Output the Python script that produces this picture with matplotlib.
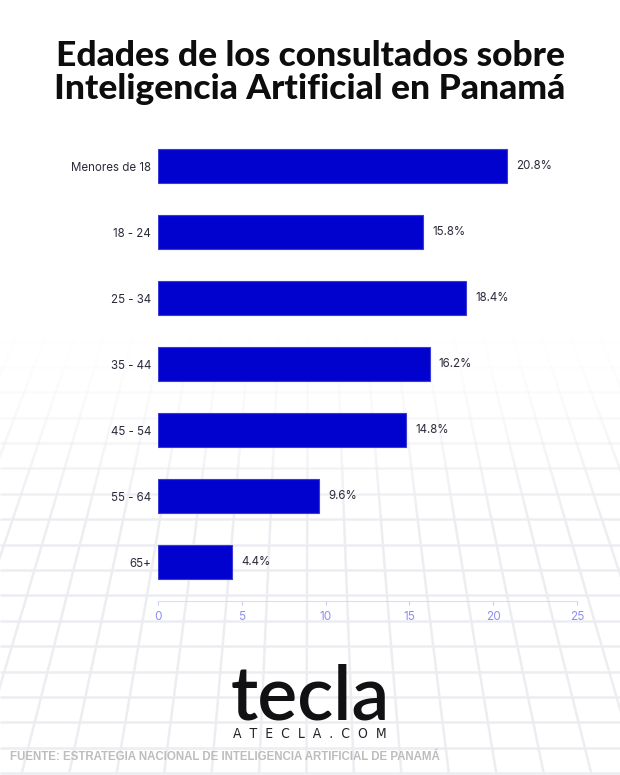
import numpy as np
import matplotlib.pyplot as plt
from matplotlib.collections import LineCollection

# datos
categorias = ['Menores de 18', '18 - 24', '25 - 34', '35 - 44', '45 - 54', '55 - 64', '65+']
porcentajes = [20.8, 15.8, 18.4, 16.2, 14.8, 9.6, 4.4]
ticks_x = [0, 5, 10, 15, 20, 25]

W, H = 620, 775
fig = plt.figure(figsize=(W / 100, H / 100), dpi=100)
fig.patch.set_facecolor('white')

# fondo: cuadricula en perspectiva (solo decorativa), se desvanece hacia arriba
bg = fig.add_axes([0, 0, 1, 1], zorder=0)
bg.set_xlim(0, W)
bg.set_ylim(H, 0)
bg.axis('off')


def opacidad(y):
    return np.clip((y - 335) / 190.0, 0, 1) ** 1.3


segs, alphas = [], []
vx, vy = 310, -360
yy = np.linspace(330, H, 120)
for k in range(-14, 15):
    x600 = 307 + 40.2 * k
    xx = vx + (x600 - vx) * (yy - vy) / (600 - vy)
    for i in range(len(yy) - 1):
        segs.append([(xx[i], yy[i]), (xx[i + 1], yy[i + 1])])
        alphas.append(opacidad((yy[i] + yy[i + 1]) / 2))
for y in np.arange(341.5, H, 25.4):
    segs.append([(0, y), (W, y)])
    alphas.append(opacidad(y))
col = np.array([[0.925, 0.929, 0.945, a] for a in alphas])
bg.add_collection(LineCollection(segs, colors=col, linewidths=1.8, capstyle='butt'))

# grafico de barras
ax = fig.add_axes([158 / W, (H - 601) / H, (577 - 158) / W, (601 - 133) / H], zorder=2)
ax.patch.set_alpha(0)
pos = np.arange(len(categorias))
ax.barh(pos, porcentajes, height=0.52, color='#0202cf', edgecolor='#3a3ad8', linewidth=0.8)
ax.set_ylim(6.59, -0.5)
ax.set_xlim(0, 25)
ax.set_yticks(pos)
ax.set_yticklabels(categorias, family='Inter', fontsize=8.3, color='#2b2b3a')
ax.tick_params(axis='y', length=0, pad=5)
ax.set_xticks(ticks_x)
ax.set_xticklabels([str(t) for t in ticks_x], family='Inter', fontsize=8.5, color='#8e8ef2')
ax.tick_params(axis='x', length=3, width=0.8, color='#c9c9f4', pad=4)
for s in ['top', 'right', 'left']:
    ax.spines[s].set_visible(False)
ax.spines['bottom'].set_color('#dcdcf8')
ax.spines['bottom'].set_linewidth(0.8)
for p, v in zip(pos, porcentajes):
    ax.text(v + 0.55, p, f'{v}%', va='center', ha='left', family='Inter',
            fontsize=8.3, color='#2b2b3a')

# titulo
fig.text(0.5, 1 - 56 / H, 'Edades de los consultados sobre', ha='center', va='center',
         family='Lato', fontweight='black', fontsize=25.5, color='#0d0d0d')
fig.text(0.5, 1 - 89 / H, 'Inteligencia Artificial en Panamá', ha='center', va='center',
         family='Lato', fontweight='black', fontsize=25.5, color='#0d0d0d')

# logo
fig.text(0.5, 1 - 719 / H, 'tecla', ha='center', va='baseline', family='Lato',
         fontweight='semibold', fontsize=54, color='#111114')
fig.text(0.5, 1 - 734 / H, 'A  T  E  C  L  A  .  C  O  M', ha='center', va='center',
         family='DejaVu Sans', fontstretch='condensed', fontsize=10, color='#222222')

# fuente
fig.text(10 / W, 1 - 757 / H, 'FUENTE: ESTRATEGIA NACIONAL DE INTELIGENCIA ARTIFICIAL DE PANAMÁ',
         ha='left', va='center', family='Liberation Sans', fontweight='bold',
         fontsize=8.3, color='#bdbdbd')

fig.savefig('out.png', dpi=100, facecolor='white')
